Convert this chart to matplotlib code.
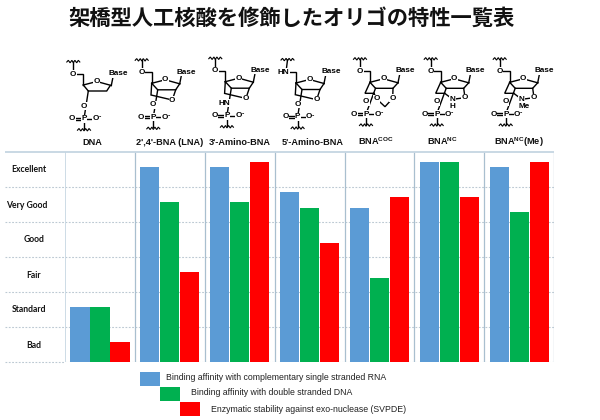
import matplotlib
matplotlib.use("Agg")
import matplotlib.pyplot as plt
from matplotlib.patches import Rectangle

plt.rcParams['mathtext.fontset'] = 'custom'
plt.rcParams['mathtext.bf'] = 'Liberation Sans:bold'
plt.rcParams['mathtext.rm'] = 'Liberation Sans:bold'

# ---- data ----
title = "架橋型人工核酸を修飾したオリゴの特性一覧表"
categories = ["DNA", "2',4'-BNA (LNA)", "3'-Amino-BNA", "5'-Amino-BNA",
              r"BNA$\mathbf{^{COC}}$", r"BNA$\mathbf{^{NC}}$", r"BNA$\mathbf{^{NC}}$(Me)"]
levels = ["Bad", "Standard", "Fair", "Good", "Very Good", "Excellent"]
rna_affinity = [1.55, 5.55, 5.55, 4.85, 4.40, 5.70, 5.55]
dna_affinity = [1.55, 4.55, 4.55, 4.40, 2.40, 5.70, 4.27]
stability = [0.55, 2.55, 5.70, 3.40, 4.70, 4.70, 5.70]
series_names = ["Binding affinity with complementary single stranded RNA",
                "Binding affinity with double stranded DNA",
                "Enzymatic stability against exo-nuclease (SVPDE)"]
colors = ["#5B9BD5", "#00B050", "#FF0000"]

fig = plt.figure(figsize=(6, 4.2), dpi=100, facecolor="white")

# ---- bar panel ----
X0, X1, YT, YB = 65.0, 554.3, 151.5, 361.5
COL = (X1 - X0) / 7
ax = fig.add_axes([X0 / 600, (420 - YB) / 420, (X1 - X0) / 600, (YB - YT) / 420])
ax.set_xlim(0, 7)
ax.set_ylim(0, 6)
for s in ax.spines.values():
    s.set_visible(False)

bar_w = 19.2 / COL
pitch = 20 / COL
for i, (vals, c) in enumerate(zip([rna_affinity, dna_affinity, stability], colors)):
    xs = [k + 0.5 + (i - 1) * pitch for k in range(len(vals))]
    ax.bar(xs, vals, width=bar_w, color=c, linewidth=0, zorder=3)

GRID = "#bcc9d3"
ax.hlines(range(0, 6), 0, 7, colors=GRID, linewidth=0.8, linestyles=(0, (1.6, 1.4)), zorder=1)
ax.vlines(range(1, 8), 0, 6, colors="#a9bfcf", linewidth=0.9, zorder=2)
ax.vlines([0], 0, 6, colors="#c9d9e4", linewidth=1.3, zorder=2)

# y labels (individually centred like the reference)
ax.set_yticks([v + 0.5 for v in range(6)], levels)
ax.tick_params(axis="y", length=0, pad=0)
ylab_centres = [33.7, 29, 33.3, 34, 26.7, 29]
for lab, cx in zip(ax.get_yticklabels(), ylab_centres):
    lab.set_ha("center")
    lab.set_x((cx - X0) / (X1 - X0))
    lab.set_fontfamily("Lato")
    lab.set_fontweight("bold")
    lab.set_fontsize(6.25)
    lab.set_color("#111111")

# category labels at the top
ax.xaxis.tick_top()
cat_centres = [92, 169.3, 239.6, 312.3, 375.5, 442.8, 519]
ax.set_xticks([(c - X0) / COL for c in cat_centres], categories)
ax.tick_params(axis="x", length=0, pad=5.0)
for lab in ax.get_xticklabels():
    lab.set_fontfamily("Liberation Sans")
    lab.set_fontweight("bold")
    lab.set_fontsize(6.6)
    lab.set_va("baseline")
    lab.set_color("#111111")

# ---- overlay in pixel coordinates: title, legend, chemical structures ----
ov = fig.add_axes([0, 0, 1, 1], zorder=5)
ov.set_xlim(0, 600)
ov.set_ylim(420, 0)
ov.axis("off")
ov.patch.set_alpha(0)

# top rule of the table, spanning label column too
ov.plot([5, X1], [YT, YT], color="#c5d5e2", lw=1.3, solid_capstyle="butt")
ov.plot([5, X0], [YB, YB], color=GRID, lw=0.8, ls=(0, (1.6, 1.4)))
for v in range(1, 6):
    yy = YB - v * 35
    ov.plot([5, X0], [yy, yy], color=GRID, lw=0.8, ls=(0, (1.6, 1.4)))

ov.text(292, 18.5, title, family=["Noto Sans CJK JP", "DejaVu Sans"], fontweight="bold",
        fontsize=15.35, ha="center", va="center", color="#111111")

# legend
swatches = [(140, 372.3), (160, 386.7), (180, 401.7)]
text_pos = [(166, 377.7), (190.7, 392.3), (210.7, 409.3)]
for (sx, sy), (tx, ty), name, c in zip(swatches, text_pos, series_names, colors):
    ov.add_patch(Rectangle((sx, sy), 19.6, 14, facecolor=c, edgecolor="none"))
    ov.text(tx, ty, name, family="Liberation Sans", fontsize=6.33, va="center", ha="left", color="#222222")


# chemical structure helpers
def bond(*pts, lw=1.0):
    ov.plot([p[0] for p in pts], [p[1] for p in pts], color="black", lw=lw,
            solid_joinstyle="miter", zorder=6)


def atom(x, y, s, fs=5.9, ha="center"):
    ov.text(x, y, s, family="Liberation Sans", fontweight="bold", fontsize=fs, ha=ha, va="center",
            color="black", zorder=7, bbox=dict(fc="white", ec="none", pad=0.25))


def squiggle(x, y):
    bond((x - 6.5, y + 0.5), (x - 5, y - 1.2), (x - 3.2, y + 1.3), (x - 1.4, y - 1.2), (x, y + 1.2),
         (x + 1.6, y - 1.2), (x + 3.4, y + 1.3), (x + 5, y - 1.2), (x + 6.5, y + 0.5), lw=0.8)


def phosphate(px, py, upper):
    bond(upper, (px, py))
    bond((px, py), (px + 12, py))
    bond((px - 11, py - 1.1), (px, py - 1.1))
    bond((px - 11, py + 1.1), (px, py + 1.1))
    bond((px, py), (px, py + 10))
    squiggle(px, py + 11)
    atom(px, py, "P")
    atom(px - 12, py, "O")
    atom(px + 11.5, py, "O")
    ov.text(px + 15.6, py - 1.6, "-", family="Liberation Sans", fontweight="bold", fontsize=5, ha="center",
            va="center", zorder=7)


def furanose(cx, cy, o5="O", sq_dx=-10):
    """Sugar ring with 5' arm; (cx, cy) is the C4' position in picture pixels."""
    o5x, o5y = cx - 10, cy - 11
    bond((cx + sq_dx, cy - 23), (o5x, o5y))
    squiggle(cx + sq_dx, cy - 23.5)
    bond((o5x, o5y), (cx, cy - 11), (cx, cy))
    bond((cx, cy), (cx + 13.5, cy - 3.5), (cx + 28, cy + 0.5))
    bond((cx + 28, cy + 0.5), (cx + 29.5, cy - 7))
    atom(cx + 35, cy - 11.3, "Base")
    atom(o5x if o5 == "O" else o5x - 2.5, o5y, o5)
    atom(cx + 13.5, cy - 3.5, "O")


def bicyclic_lna(cx, cy, o3="O", o5="O", o3dx=0):
    furanose(cx, cy, o5=o5, sq_dx=-10 if o5 == "O" else -8.5)
    bond((cx + 28, cy + 0.5), (cx + 24, cy + 6.5), (cx + 6, cy + 6.5), (cx, cy))
    bond((cx, cy), (cx - 0.7, cy + 11.7), (cx + 20.6, cy + 16.7), (cx + 24, cy + 6.5))
    phosphate(cx + 1.6, cy + 34, (cx + 6, cy + 6.5))
    atom(cx + 1.6 + o3dx, cy + 21.5, o3)
    atom(cx + 20.6, cy + 16.7, "O")


# DNA
furanose(83.3, 85)
bond((110.3, 85.5), (106.7, 91), (88.3, 91), (83.3, 85))
phosphate(84, 118.7, (88.3, 91))
atom(84, 106, "O")

# 2',4'-BNA (LNA), 3'-Amino-BNA, 5'-Amino-BNA
bicyclic_lna(151.7, 83.3)
bicyclic_lna(225.3, 81.7, o3="HN", o3dx=-2.5)
bicyclic_lna(296, 83, o5="HN")


def bridged(cx, cy):
    furanose(cx, cy)
    bond((cx + 28, cy + 0.5), (cx + 23, cy + 6), (cx + 5.5, cy + 6), (cx, cy))
    bond((cx, cy), (cx - 5, cy + 11), (cx + 4, cy + 11))
    phosphate(cx - 4, cy + 31.7, (cx + 5.5, cy + 6))
    atom(cx - 4, cy + 19.5, "O")


# BNA-COC
bridged(370, 82.3)
bond((374, 93.3), (376.7, 99), (385, 106.7), (392.7, 98.3), (393, 88.3))
atom(376.7, 99, "O")
atom(392.7, 98.3, "O")

# BNA-NC
bridged(440.7, 82.3)
bond((444.7, 93.3), (452.7, 99.3), (465, 97.7), (463.7, 88.3))
bond((452.7, 99.3), (452.7, 106))
atom(452.7, 99.5, "N")
atom(452.7, 106.7, "H")
atom(465, 97.7, "O")

# BNA-NC (Me)
bridged(509.7, 82.3)
bond((513.7, 93.3), (521.7, 99.3), (534, 97.7), (532.7, 88.3))
atom(521.7, 99.5, "N")
atom(524.5, 106.7, "Me")
atom(534, 97.7, "O")

fig.savefig("out.png", dpi=100, facecolor="white")
